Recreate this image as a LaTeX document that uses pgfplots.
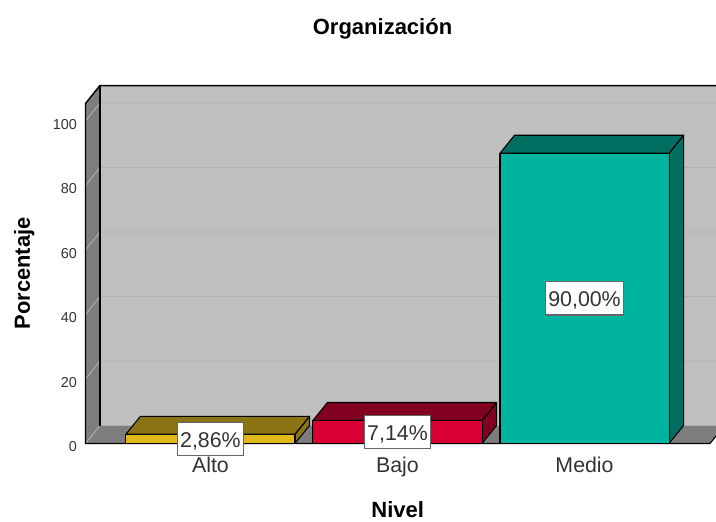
\documentclass[border=0pt]{standalone}
\usepackage{fontspec}
\setmainfont{Liberation Sans}
\usepackage{pgfplots}
\pgfplotsset{compat=1.18}
\definecolor{wallback}{HTML}{BFBFBF}
\definecolor{wallside}{HTML}{7D7D7D}
\definecolor{gridc}{HTML}{AFAFAF}
\definecolor{txt}{HTML}{333333}
\definecolor{altof}{HTML}{E0B81C}
\definecolor{altot}{HTML}{8A7414}
\definecolor{bajof}{HTML}{D90033}
\definecolor{bajot}{HTML}{82001F}
\definecolor{mediof}{HTML}{00B4A0}
\definecolor{mediot}{HTML}{006E60}
\tikzset{
  face/.style={fill=#1,draw=black,line width=0.8pt,line join=round},
  grid3d/.style={draw=gridc,line width=0.7pt},
  edge3d/.style={draw=black,line width=1.1pt},
}
\begin{document}
\begin{tikzpicture}[x=0.75pt,y=0.75pt]
\path[use as bounding box,clip] (-85.5,-77.5) rectangle (630.5,443.5);
\begin{axis}[
  at={(0,0)},anchor=south west,
  scale only axis,
  width=468.4pt,height=255pt,
  xmin=-0.668,xmax=2.671,ymin=0,ymax=105.43,
  clip=false,
  axis line style={draw=none},
  major tick length=0pt,
  xtick={0,1,2},
  xticklabels={Alto,Bajo,Medio},
  xticklabel style={font=\fontsize{16}{18}\selectfont,text=txt,yshift=-6.7pt},
  ytick={0,20,40,60,80,100},
  yticklabel style={font=\fontsize{10.8}{13}\selectfont,text=txt,yshift=-2.5pt,xshift=-3pt},
  /pgf/number format/assume math mode=true,
  title={Organización},
  title style={font=\fontsize{16.5}{19}\bfseries,at={(axis description cs:0.4756,1.196)},anchor=center},
  xlabel={Nivel},
  xlabel style={font=\fontsize{16.5}{19}\bfseries,at={(axis description cs:0.5,-0.1956)},anchor=center},
  ylabel={Porcentaje},
  ylabel style={font=\fontsize{16.4}{19}\bfseries,at={(axis description cs:-0.098,0.5)},anchor=center},
]
% walls and floor
\addplot[fill=wallback,draw=none] coordinates {(-0.591,5.58)(2.75,5.58)(2.75,111)(-0.591,111)} --cycle;
\addplot[fill=wallside,draw=none] coordinates {(-0.668,0)(-0.591,5.58)(-0.591,111)(-0.668,105.43)} --cycle;
\addplot[fill=wallside,draw=none] coordinates {(-0.668,0)(2.671,0)(2.7485,5.58)(-0.591,5.58)} --cycle;
% grid lines, side wall then back wall
\addplot[grid3d] coordinates {(-0.668,0)(-0.591,5.58)(2.75,5.58)};
\addplot[grid3d] coordinates {(-0.668,20)(-0.591,25.58)(2.75,25.58)};
\addplot[grid3d] coordinates {(-0.668,40)(-0.591,45.58)(2.75,45.58)};
\addplot[grid3d] coordinates {(-0.668,60)(-0.591,65.58)(2.75,65.58)};
\addplot[grid3d] coordinates {(-0.668,80)(-0.591,85.58)(2.75,85.58)};
\addplot[grid3d] coordinates {(-0.668,100)(-0.591,105.58)(2.75,105.58)};
% frame
\addplot[edge3d] coordinates {(-0.591,5.58)(-0.591,111)};
\addplot[edge3d] coordinates {(2.671,0)(-0.668,0)(-0.668,105.43)(-0.591,111)(2.75,111)};
\addplot[draw=black,line width=0.8pt] coordinates {(2.671,0)(2.7485,5.58)};
% Alto
\addplot[face=altot] coordinates {(0.452,0)(0.5295,5.58)(0.5295,8.44)(0.452,2.86)} --cycle;
\addplot[face=altot] coordinates {(-0.452,2.86)(-0.3745,8.44)(0.5295,8.44)(0.452,2.86)} --cycle;
\addplot[face=altof] coordinates {(-0.452,0)(0.452,0)(0.452,2.86)(-0.452,2.86)} --cycle;
% Bajo
\addplot[face=bajot] coordinates {(1.452,0)(1.5295,5.58)(1.5295,12.72)(1.452,7.14)} --cycle;
\addplot[face=bajot] coordinates {(0.548,7.14)(0.6255,12.72)(1.5295,12.72)(1.452,7.14)} --cycle;
\addplot[face=bajof] coordinates {(0.548,0)(1.452,0)(1.452,7.14)(0.548,7.14)} --cycle;
% Medio
\addplot[face=mediot] coordinates {(2.452,0)(2.5295,5.58)(2.5295,95.58)(2.452,90)} --cycle;
\addplot[face=mediot] coordinates {(1.548,90)(1.6255,95.58)(2.5295,95.58)(2.452,90)} --cycle;
\addplot[face=mediof] coordinates {(1.548,0)(2.452,0)(2.452,90)(1.548,90)} --cycle;
% value labels
\addplot[draw=none,mark=none,
  point meta=explicit symbolic,
  nodes near coords,
  every node near coord/.append style={anchor=center,fill=white,draw=black!60,line width=0.9pt,
    text=txt,font=\fontsize{16}{18}\selectfont,inner xsep=2.2pt,inner ysep=0pt,
    minimum height=25pt,text height=12.4pt,text depth=0pt},
] coordinates {(0,1.43)[{2,86\%}] (1,3.57)[{7,14\%}] (2,45)[{90,00\%}]};
\end{axis}
\end{tikzpicture}
\end{document}
